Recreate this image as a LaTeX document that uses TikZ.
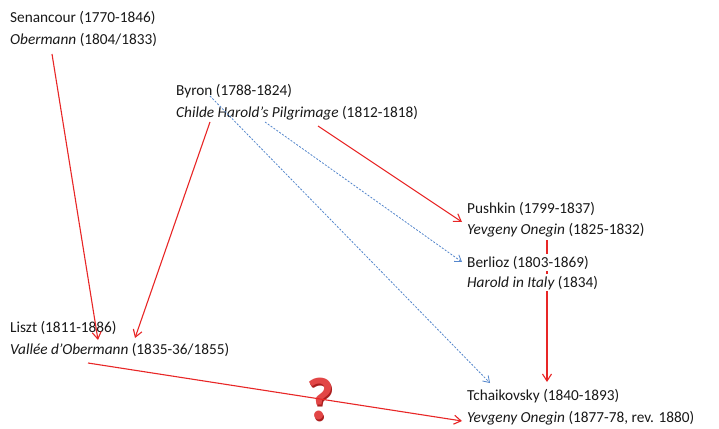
\documentclass[tikz,border=0pt]{standalone}
\usepackage{fontspec}
\setmainfont{Carlito}
\usetikzlibrary{arrows.meta}
\definecolor{redarr}{RGB}{232,38,38}
\definecolor{bluearr}{RGB}{84,134,204}
\definecolor{qred}{RGB}{226,70,70}
\definecolor{qdark}{RGB}{170,30,30}
\begin{document}
\begin{tikzpicture}[x=1pt,y=-1pt,
  txt/.style={anchor=base west, inner sep=0pt, font=\fontsize{15.3}{18}\selectfont, text=black!90},
  redline/.style={draw=redarr, line width=1.1pt, -{Straight Barb[length=7pt,width=9pt,line width=1.1pt]}},
  blueline/.style={draw=bluearr, line width=0.8pt, dash pattern=on 2pt off 1.5pt, -{Straight Barb[length=6pt,width=8pt,line width=0.8pt]}},
  qmark/.style={inner sep=0pt, anchor=base, font=\fontsize{60}{60}\bfseries\selectfont}
]
\useasboundingbox (0,0) rectangle (719,428);
\fill[white] (0,0) rectangle (719,428);

% question mark (behind the arrow)
\node[qmark, text=qdark] (qs) at (321.5,421) {?};
\node[qmark, text=qred] (q) at (320,419.5) {?};

% coordinates for connector ends
\coordinate (senS) at (52,54);
\coordinate (lisztA) at (98,340);
\coordinate (byrA) at (210,122);
\coordinate (lisztB) at (135,338);
\coordinate (byrB) at (318,126);
\coordinate (pushA) at (462,222);
\coordinate (byrC) at (265,122);
\coordinate (berA) at (462,262);
\coordinate (byrD) at (210,96);
\coordinate (tchA) at (490,383);
\coordinate (pushS) at (547,240);
\coordinate (tchB) at (547,382);
\coordinate (lisztS) at (88,363);
\coordinate (tchC) at (462,421);

% red connector drawn first (Berlioz node covers it)
\draw[redline] (pushS) -- (tchB);

% Berlioz
\node[txt, fill=white, inner ysep=2pt] (ber1) at (467,267) {Berlioz (1803-1869)};
\node[txt, fill=white, inner ysep=2pt] (ber2) at (467,287) {\itshape Harold in Italy\upshape{} (1834)};

% other nodes
\node[txt] (sen1) at (10,23) {Senancour (1770-1846)};
\node[txt] (sen2) at (10,45) {\itshape Obermann\upshape{} (1804/1833)};
\node[txt] (byr1) at (176,95) {Byron (1788-1824)};
\node[txt] (byr2) at (176,117) {\itshape Childe Harold's Pilgrimage\upshape{} (1812-1818)};
\node[txt] (push1) at (467,213) {Pushkin (1799-1837)};
\node[txt] (push2) at (467,234) {\itshape Yevgeny Onegin\upshape{} (1825-1832)};
\node[txt] (lis1) at (10,332) {Liszt (1811-1886)};
\node[txt] (lis2) at (10,354) {\itshape Vallée d'Obermann\upshape{} (1835-36/1855)};
\node[txt] (tch1) at (467,400) {Tchaikovsky (1840-1893)};
\node[txt] (tch2) at (467,422) {\itshape Yevgeny Onegin\upshape{} (1877-78, rev. 1880)};

% connectors
\draw[redline] (senS) -- (lisztA);
\draw[redline] (byrA) -- (lisztB);
\draw[redline] (byrB) -- (pushA);
\draw[redline] (lisztS) -- (tchC);
\draw[blueline] (byrC) -- (berA);
\draw[blueline] (byrD) -- (tchA);
\end{tikzpicture}
\end{document}
